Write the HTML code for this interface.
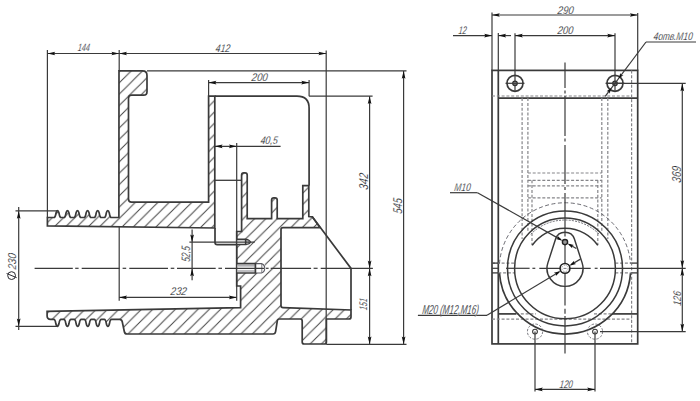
<!DOCTYPE html>
<html><head><meta charset="utf-8"><style>
html,body{margin:0;padding:0;background:#fff;}
svg{display:block;}
</style></head><body>
<svg width="700" height="401" viewBox="0 0 700 401">
<defs>
<pattern id="hatch" patternUnits="userSpaceOnUse" width="11.3" height="11.3" patternTransform="translate(10,0)">
<path d="M-1,1 L1,-1 M0,11.3 L11.3,0 M10.3,12.3 L12.3,10.3" stroke="#444" stroke-width="1"/>
</pattern>
</defs>
<rect width="700" height="401" fill="#fff"/>
<path d="M119,70.9 L142.5,70.9 Q147,70.9 147,75.4 L147,91.7 Q147,95.2 143.5,95.2 L131.5,95.2 Q128.5,95.2 128.5,98.2 L128.5,199 Q128.5,202.2 131.5,202.2 L208.6,202.2 L208.6,96.2 L214.8,96.2 L214.8,228 L47.4,225.9 L47.4,217.5 L53.9,217.5 Q55.3,217.5 56.0,213 Q56.6,210.6 57.5,210.6 Q58.4,210.6 59.0,213 Q59.7,217.5 61.1,217.5 L63.9,217.5 Q65.3,217.5 66.0,213 Q66.6,210.6 67.5,210.6 Q68.4,210.6 69.0,213 Q69.7,217.5 71.1,217.5 L73.9,217.5 Q75.3,217.5 76.0,213 Q76.6,210.6 77.5,210.6 Q78.4,210.6 79.0,213 Q79.7,217.5 81.1,217.5 L84.0,217.5 Q85.39999999999999,217.5 86.1,213 Q86.69999999999999,210.6 87.6,210.6 Q88.5,210.6 89.1,213 Q89.8,217.5 91.19999999999999,217.5 L94.10000000000001,217.5 Q95.5,217.5 96.2,213 Q96.8,210.6 97.7,210.6 Q98.60000000000001,210.6 99.2,213 Q99.9,217.5 101.3,217.5 L104.2,217.5 Q105.6,217.5 106.3,213 Q106.89999999999999,210.6 107.8,210.6 Q108.7,210.6 109.3,213 Q110.0,217.5 111.39999999999999,217.5 L118.9,217.5 Z" stroke="#3a3a3a" stroke-width="1.7" fill="url(#hatch)"/>
<path d="M241.6,231.5 L241.6,175 Q241.6,172.8 243.8,172.8 L245,172.8 Q247.2,172.8 247.2,175 L247.2,218.7 L271.6,218.7 L271.6,200 Q271.6,197.8 273.8,197.8 L275,197.8 Q277.2,197.8 277.2,200 L277.2,218.7 L302.8,218.7 L302.8,185.6 L308.8,185.6 L308.8,216.5 L312.3,216.8 L320.0,227.6 L283,227.6 Q281,227.6 281,229.6 L281,305.6 Q281,307.6 283,307.7 L351,310 L351,317 Q351,319 349,319 L326.4,319 L326.4,342 Q326.4,344 324.4,344 L304.2,344 Q302.2,344 302.2,342 L302.2,321 Q302.2,319 300.2,319 L279.5,319 Q277.5,319 277.3,321 L275.6,331.5 Q275.3,334 273,334 L127,334 Q124.8,334 124.3,331.5 L122.2,321.5 Q121.6,319.3 119.6,319.3 L111.5,319.3 Q110.10000000000001,319.3 109.5,323.5 Q108.9,326.3 107.9,326.3 Q106.9,326.3 106.30000000000001,323.5 Q105.7,319.3 104.30000000000001,319.3 L101.39999999999999,319.3 Q100.0,319.3 99.39999999999999,323.5 Q98.8,326.3 97.8,326.3 Q96.8,326.3 96.2,323.5 Q95.6,319.3 94.2,319.3 L91.39999999999999,319.3 Q90.0,319.3 89.39999999999999,323.5 Q88.8,326.3 87.8,326.3 Q86.8,326.3 86.2,323.5 Q85.6,319.3 84.2,319.3 L81.3,319.3 Q79.9,319.3 79.3,323.5 Q78.7,326.3 77.7,326.3 Q76.7,326.3 76.10000000000001,323.5 Q75.5,319.3 74.10000000000001,319.3 L71.0,319.3 Q69.60000000000001,319.3 69.0,323.5 Q68.4,326.3 67.4,326.3 Q66.4,326.3 65.80000000000001,323.5 Q65.2,319.3 63.800000000000004,319.3 L61.0,319.3 Q59.6,319.3 59.0,323.5 Q58.4,326.3 57.4,326.3 Q56.4,326.3 55.8,323.5 Q55.199999999999996,319.3 53.8,319.3 L50.5,319.3 Q47.1,319.3 47.1,316 L47.1,311.3 L240.6,307.6 L240.6,286 L236.7,286 L236.7,272.6 L236.7,264 L236.7,244.6 L236.7,239.4 L236.7,231.5 Z" stroke="#3a3a3a" stroke-width="1.7" fill="url(#hatch)"/>
<rect x="236.7" y="263.6" width="28" height="9.4" fill="#fff"/>
<path d="M255.4,263.6 L261.5,263.6 Q264.6,264.5 264.8,268.3 Q264.6,272.1 261.5,273 L255.4,273" stroke="#5a5a62" stroke-width="1.1" fill="none"/>
<line x1="261.8" y1="264" x2="261.8" y2="272.6" stroke="#5a5a62" stroke-width="0.8"/>
<path d="M236.7,263.6 L255.4,263.6 L255.4,273 L236.7,273" stroke="#3a3a3a" stroke-width="1.7" fill="none"/>
<line x1="237.5" y1="265.9" x2="255" y2="265.9" stroke="#5a5a62" stroke-width="0.8"/>
<line x1="237.5" y1="271" x2="255" y2="271" stroke="#5a5a62" stroke-width="0.8"/>
<rect x="236.7" y="239.2" width="14" height="5.4" fill="#fff"/>
<path d="M245.7,239.3 Q249.6,239.6 250.6,242.1 Q249.6,244.4 245.7,244.5" stroke="#3a3a3a" stroke-width="1.2" fill="none"/>
<path d="M236.7,239.3 L245.7,239.3 L245.7,244.5 L236.7,244.5" stroke="#3a3a3a" stroke-width="1.7" fill="none"/>
<line x1="248.2" y1="239.8" x2="248.2" y2="244.1" stroke="#5a5a62" stroke-width="0.8"/>
<path d="M215,228 L215,242.5 Q215,244.7 217.2,244.7 L236.7,244.7" stroke="#3a3a3a" stroke-width="1.7" fill="none"/>
<line x1="214.8" y1="180.3" x2="241.6" y2="180.3" stroke="#3a3a3a" stroke-width="1.3"/>
<path d="M214.8,96.2 L297,96.2 Q309.1,96.2 309.1,108.3 L309.1,185.6" stroke="#3a3a3a" stroke-width="1.7" fill="none"/>
<path d="M312.3,216.8 L351,268.4 L351,310" stroke="#3a3a3a" stroke-width="1.7" fill="none"/>
<line x1="47.4" y1="50" x2="47.4" y2="217.5" stroke="#3a3a3a" stroke-width="1.2"/>
<line x1="119.2" y1="50" x2="119.2" y2="70.9" stroke="#3a3a3a" stroke-width="1.2"/>
<line x1="326.2" y1="50.5" x2="326.2" y2="344" stroke="#3a3a3a" stroke-width="1.2"/>
<line x1="47.4" y1="53.5" x2="326.2" y2="53.5" stroke="#3a3a3a" stroke-width="1.2"/>
<path d="M47.40,53.50 L55.20,51.65 L53.90,53.50 L55.20,55.35 Z" fill="#111" stroke="none"/>
<path d="M119.20,53.50 L111.40,55.35 L112.70,53.50 L111.40,51.65 Z" fill="#111" stroke="none"/>
<path d="M119.20,53.50 L127.00,51.65 L125.70,53.50 L127.00,55.35 Z" fill="#111" stroke="none"/>
<path d="M326.20,53.50 L318.40,55.35 L319.70,53.50 L318.40,51.65 Z" fill="#111" stroke="none"/>
<line x1="147" y1="70.9" x2="406.5" y2="70.9" stroke="#3a3a3a" stroke-width="1.2"/>
<line x1="208.6" y1="80" x2="208.6" y2="96.2" stroke="#3a3a3a" stroke-width="1.2"/>
<line x1="309.1" y1="80" x2="309.1" y2="96.2" stroke="#3a3a3a" stroke-width="1.2"/>
<line x1="208.6" y1="82.6" x2="309.1" y2="82.6" stroke="#3a3a3a" stroke-width="1.2"/>
<path d="M208.60,82.60 L216.40,80.75 L215.10,82.60 L216.40,84.45 Z" fill="#111" stroke="none"/>
<path d="M309.10,82.60 L301.30,84.45 L302.60,82.60 L301.30,80.75 Z" fill="#111" stroke="none"/>
<line x1="309.1" y1="96.2" x2="372.6" y2="96.2" stroke="#3a3a3a" stroke-width="1.2"/>
<line x1="369.6" y1="96.2" x2="369.6" y2="344.3" stroke="#3a3a3a" stroke-width="1.2"/>
<path d="M369.60,96.20 L371.45,104.00 L369.60,102.70 L367.75,104.00 Z" fill="#111" stroke="none"/>
<path d="M369.60,268.40 L367.75,260.60 L369.60,261.90 L371.45,260.60 Z" fill="#111" stroke="none"/>
<path d="M369.60,268.40 L371.45,276.20 L369.60,274.90 L367.75,276.20 Z" fill="#111" stroke="none"/>
<path d="M369.60,344.30 L367.75,336.50 L369.60,337.80 L371.45,336.50 Z" fill="#111" stroke="none"/>
<line x1="403.6" y1="70.9" x2="403.6" y2="344.3" stroke="#3a3a3a" stroke-width="1.2"/>
<path d="M403.60,70.90 L405.45,78.70 L403.60,77.40 L401.75,78.70 Z" fill="#111" stroke="none"/>
<path d="M403.60,344.30 L401.75,336.50 L403.60,337.80 L405.45,336.50 Z" fill="#111" stroke="none"/>
<line x1="326.2" y1="344.3" x2="406.5" y2="344.3" stroke="#3a3a3a" stroke-width="1.2"/>
<line x1="119.2" y1="226.5" x2="119.2" y2="300.7" stroke="#3a3a3a" stroke-width="1.2"/>
<line x1="236.7" y1="143" x2="236.7" y2="300.7" stroke="#3a3a3a" stroke-width="1.2"/>
<line x1="119.2" y1="297.4" x2="236.7" y2="297.4" stroke="#3a3a3a" stroke-width="1.2"/>
<path d="M119.20,297.40 L127.00,295.55 L125.70,297.40 L127.00,299.25 Z" fill="#111" stroke="none"/>
<path d="M236.70,297.40 L228.90,299.25 L230.20,297.40 L228.90,295.55 Z" fill="#111" stroke="none"/>
<line x1="214.8" y1="146.3" x2="280.6" y2="146.3" stroke="#3a3a3a" stroke-width="1.2"/>
<path d="M214.80,146.30 L222.60,144.45 L221.30,146.30 L222.60,148.15 Z" fill="#111" stroke="none"/>
<path d="M236.70,146.30 L228.90,148.15 L230.20,146.30 L228.90,144.45 Z" fill="#111" stroke="none"/>
<line x1="192.1" y1="229.5" x2="192.1" y2="280.3" stroke="#3a3a3a" stroke-width="1.2"/>
<path d="M192.10,242.20 L190.25,234.40 L192.10,235.70 L193.95,234.40 Z" fill="#111" stroke="none"/>
<path d="M192.10,268.40 L193.95,276.20 L192.10,274.90 L190.25,276.20 Z" fill="#111" stroke="none"/>
<line x1="189.4" y1="242.1" x2="254.7" y2="242.1" stroke="#3a3a3a" stroke-width="1.2"/>
<line x1="18.7" y1="207" x2="18.7" y2="330" stroke="#3a3a3a" stroke-width="1.2"/>
<path d="M18.70,210.90 L20.55,218.70 L18.70,217.40 L16.85,218.70 Z" fill="#111" stroke="none"/>
<path d="M18.70,326.30 L16.85,318.50 L18.70,319.80 L20.55,318.50 Z" fill="#111" stroke="none"/>
<line x1="15.5" y1="210.9" x2="57" y2="210.9" stroke="#3a3a3a" stroke-width="1.2"/>
<line x1="15.5" y1="326.3" x2="57" y2="326.3" stroke="#3a3a3a" stroke-width="1.2"/>
<line x1="34.6" y1="268.3" x2="72.8" y2="268.3" stroke="#3a3a3a" stroke-width="1.2"/>
<line x1="75.2" y1="268.3" x2="78.6" y2="268.3" stroke="#3a3a3a" stroke-width="1.2"/>
<line x1="81.7" y1="268.3" x2="119.6" y2="268.3" stroke="#3a3a3a" stroke-width="1.2"/>
<line x1="122.6" y1="268.3" x2="126.2" y2="268.3" stroke="#3a3a3a" stroke-width="1.2"/>
<line x1="129.3" y1="268.3" x2="168" y2="268.3" stroke="#3a3a3a" stroke-width="1.2"/>
<line x1="170.7" y1="268.3" x2="174.3" y2="268.3" stroke="#3a3a3a" stroke-width="1.2"/>
<line x1="177" y1="268.3" x2="215.7" y2="268.3" stroke="#3a3a3a" stroke-width="1.2"/>
<line x1="218.4" y1="268.3" x2="222" y2="268.3" stroke="#3a3a3a" stroke-width="1.2"/>
<line x1="225" y1="268.3" x2="264" y2="268.3" stroke="#3a3a3a" stroke-width="1.2"/>
<line x1="266" y1="268.3" x2="268.6" y2="268.3" stroke="#3a3a3a" stroke-width="1.2"/>
<line x1="270.7" y1="268.3" x2="311.1" y2="268.3" stroke="#3a3a3a" stroke-width="1.2"/>
<line x1="313.6" y1="268.3" x2="317.6" y2="268.3" stroke="#3a3a3a" stroke-width="1.2"/>
<line x1="320.7" y1="268.3" x2="372.9" y2="268.3" stroke="#3a3a3a" stroke-width="1.2"/>
<rect x="492" y="70.4" width="145.7" height="273.5" fill="none" stroke="#3a3a3a" stroke-width="1.7"/>
<line x1="498.3" y1="70.4" x2="498.3" y2="343.9" stroke="#3a3a3a" stroke-width="1.7"/>
<line x1="498.3" y1="98.1" x2="637.7" y2="98.1" stroke="#3a3a3a" stroke-width="1.7"/>
<line x1="492" y1="96" x2="631.6" y2="96" stroke="#858589" stroke-width="1.2" stroke-dasharray="3 1.8"/>
<line x1="631.6" y1="70.4" x2="631.6" y2="343.9" stroke="#858589" stroke-width="1.2" stroke-dasharray="3 1.8"/>
<line x1="522.1" y1="98.1" x2="522.1" y2="239" stroke="#858589" stroke-width="1.2" stroke-dasharray="3 1.8"/>
<line x1="527.9" y1="98.1" x2="527.9" y2="232" stroke="#858589" stroke-width="1.2" stroke-dasharray="3 1.8"/>
<line x1="601.8" y1="98.1" x2="601.8" y2="232" stroke="#858589" stroke-width="1.2" stroke-dasharray="3 1.8"/>
<line x1="607.8" y1="98.1" x2="607.8" y2="239" stroke="#858589" stroke-width="1.2" stroke-dasharray="3 1.8"/>
<line x1="527.9" y1="173.0" x2="601.8" y2="173.0" stroke="#858589" stroke-width="1.2" stroke-dasharray="3 1.8"/>
<line x1="527.9" y1="180.3" x2="601.8" y2="180.3" stroke="#858589" stroke-width="1.2" stroke-dasharray="3 1.8"/>
<line x1="527.9" y1="185.8" x2="601.8" y2="185.8" stroke="#858589" stroke-width="1.2" stroke-dasharray="3 1.8"/>
<line x1="527.9" y1="197.8" x2="601.8" y2="197.8" stroke="#858589" stroke-width="1.2" stroke-dasharray="3 1.8"/>
<line x1="532" y1="180.3" x2="532" y2="245.3" stroke="#858589" stroke-width="1.2" stroke-dasharray="3 1.8"/>
<line x1="597.8" y1="180.3" x2="597.8" y2="245.3" stroke="#858589" stroke-width="1.2" stroke-dasharray="3 1.8"/>
<line x1="492" y1="263.1" x2="515" y2="263.1" stroke="#858589" stroke-width="1.2" stroke-dasharray="3 1.8"/>
<line x1="498.3" y1="272.9" x2="515" y2="272.9" stroke="#858589" stroke-width="1.2" stroke-dasharray="3 1.8"/>
<line x1="615.3" y1="263.1" x2="631.6" y2="263.1" stroke="#858589" stroke-width="1.2" stroke-dasharray="3 1.8"/>
<line x1="615.3" y1="272.9" x2="631.6" y2="272.9" stroke="#858589" stroke-width="1.2" stroke-dasharray="3 1.8"/>
<line x1="631.6" y1="272.9" x2="637.7" y2="272.9" stroke="#3a3a3a" stroke-width="1.3"/>
<line x1="631.6" y1="263.1" x2="637.7" y2="263.1" stroke="#3a3a3a" stroke-width="1.3"/>
<line x1="492" y1="263.1" x2="498.3" y2="263.1" stroke="#3a3a3a" stroke-width="1.3"/>
<line x1="492" y1="272.9" x2="498.3" y2="272.9" stroke="#3a3a3a" stroke-width="1.3"/>
<line x1="498.3" y1="313.9" x2="516" y2="313.9" stroke="#3a3a3a" stroke-width="1.7"/>
<line x1="516" y1="313.9" x2="536" y2="313.9" stroke="#858589" stroke-width="1.2" stroke-dasharray="3 1.8"/>
<line x1="612" y1="313.9" x2="637.7" y2="313.9" stroke="#3a3a3a" stroke-width="1.7"/>
<line x1="594" y1="313.9" x2="612" y2="313.9" stroke="#858589" stroke-width="1.2" stroke-dasharray="3 1.8"/>
<line x1="492" y1="319.2" x2="631.6" y2="319.2" stroke="#858589" stroke-width="1.2" stroke-dasharray="3 1.8"/>
<circle cx="565" cy="268.4" r="50.4" fill="none" stroke="#3a3a3a" stroke-width="1.5"/>
<path d="M530.78,234.18 A48.4,48.4 0 0 1 599.22,234.18" fill="none" stroke="#5a5a62" stroke-width="0.9" stroke-dasharray="2 1.2"/>
<circle cx="565" cy="268.4" r="57.5" fill="none" stroke="#3a3a3a" stroke-width="1.5"/>
<path d="M499.48,263.6 A65.7,65.7 0 0 1 630.52,263.6" fill="none" stroke="#5a5a62" stroke-width="0.9" stroke-dasharray="4 2.5"/>
<path d="M499.48,273.2 A65.7,65.7 0 0 0 630.52,273.2" fill="none" stroke="#3a3a3a" stroke-width="1.7"/>
<path d="M532.2,245.3 A40,40 0 0 1 597.8,245.3" fill="none" stroke="#3a3a3a" stroke-width="1.5"/>
<path d="M555.58,239.05 A9.9,9.9 0 0 1 574.42,239.05 L582.13,262.86 A18.0,18.0 0 1 1 547.87,262.86 Z" stroke="#3a3a3a" stroke-width="1.45" fill="none"/>
<circle cx="515" cy="83.3" r="8" fill="none" stroke="#3a3a3a" stroke-width="1.7"/>
<circle cx="515" cy="83.3" r="2.2" fill="none" stroke="#2a2a2a" stroke-width="1.4"/>
<line x1="505.5" y1="83.3" x2="524.5" y2="83.3" stroke="#3a3a3a" stroke-width="1.2"/>
<line x1="515" y1="33.3" x2="515" y2="92" stroke="#3a3a3a" stroke-width="1.2"/>
<circle cx="615" cy="83.3" r="8" fill="none" stroke="#3a3a3a" stroke-width="1.7"/>
<circle cx="615" cy="83.3" r="2.2" fill="none" stroke="#2a2a2a" stroke-width="1.4"/>
<line x1="605.5" y1="83.3" x2="624.5" y2="83.3" stroke="#3a3a3a" stroke-width="1.2"/>
<line x1="615" y1="33.3" x2="615" y2="92" stroke="#3a3a3a" stroke-width="1.2"/>
<circle cx="535" cy="331.6" r="7.6" fill="none" stroke="#5a5a62" stroke-width="0.8" stroke-dasharray="2.5 1.5"/>
<circle cx="535" cy="331.6" r="2.4" fill="none" stroke="#3a3a3a" stroke-width="1.1"/>
<line x1="535" y1="331.6" x2="535" y2="391.5" stroke="#3a3a3a" stroke-width="1.2"/>
<circle cx="595" cy="331.6" r="7.6" fill="none" stroke="#5a5a62" stroke-width="0.8" stroke-dasharray="2.5 1.5"/>
<circle cx="595" cy="331.6" r="2.4" fill="none" stroke="#3a3a3a" stroke-width="1.1"/>
<line x1="595" y1="331.6" x2="595" y2="391.5" stroke="#3a3a3a" stroke-width="1.2"/>
<line x1="565" y1="62.4" x2="565" y2="88" stroke="#3a3a3a" stroke-width="1.2"/>
<line x1="565" y1="90.5" x2="565" y2="93.5" stroke="#3a3a3a" stroke-width="1.2"/>
<line x1="565" y1="96" x2="565" y2="136" stroke="#3a3a3a" stroke-width="1.2"/>
<line x1="565" y1="138.5" x2="565" y2="141.5" stroke="#3a3a3a" stroke-width="1.2"/>
<line x1="565" y1="145" x2="565" y2="184" stroke="#3a3a3a" stroke-width="1.2"/>
<line x1="565" y1="187" x2="565" y2="190" stroke="#3a3a3a" stroke-width="1.2"/>
<line x1="565" y1="193" x2="565" y2="236.5" stroke="#3a3a3a" stroke-width="1.2"/>
<line x1="565" y1="244" x2="565" y2="305.6" stroke="#3a3a3a" stroke-width="1.2"/>
<line x1="565" y1="308.8" x2="565" y2="313.7" stroke="#3a3a3a" stroke-width="1.2"/>
<line x1="565" y1="316" x2="565" y2="353.5" stroke="#3a3a3a" stroke-width="1.2"/>
<line x1="491.9" y1="268.3" x2="498.3" y2="268.3" stroke="#3a3a3a" stroke-width="1.2"/>
<line x1="506" y1="268.3" x2="529.6" y2="268.3" stroke="#3a3a3a" stroke-width="1.2"/>
<line x1="532.4" y1="268.3" x2="535.3" y2="268.3" stroke="#3a3a3a" stroke-width="1.2"/>
<line x1="539.3" y1="268.3" x2="590.7" y2="268.3" stroke="#3a3a3a" stroke-width="1.2"/>
<line x1="594.7" y1="268.3" x2="597.6" y2="268.3" stroke="#3a3a3a" stroke-width="1.2"/>
<line x1="600" y1="268.3" x2="685.7" y2="268.3" stroke="#3a3a3a" stroke-width="1.2"/>
<line x1="492" y1="12.4" x2="492" y2="70.4" stroke="#3a3a3a" stroke-width="1.2"/>
<line x1="637.7" y1="13" x2="637.7" y2="70.4" stroke="#3a3a3a" stroke-width="1.2"/>
<line x1="498.3" y1="33" x2="498.3" y2="70.4" stroke="#3a3a3a" stroke-width="1.2"/>
<line x1="492" y1="15" x2="637.7" y2="15" stroke="#3a3a3a" stroke-width="1.2"/>
<path d="M492.00,15.00 L499.80,13.15 L498.50,15.00 L499.80,16.85 Z" fill="#111" stroke="none"/>
<path d="M637.70,15.00 L629.90,16.85 L631.20,15.00 L629.90,13.15 Z" fill="#111" stroke="none"/>
<line x1="453" y1="35.6" x2="492" y2="35.6" stroke="#3a3a3a" stroke-width="1.2"/>
<path d="M492.00,35.60 L484.20,37.45 L485.50,35.60 L484.20,33.75 Z" fill="#111" stroke="none"/>
<line x1="498.3" y1="35.6" x2="511" y2="35.6" stroke="#3a3a3a" stroke-width="1.2"/>
<path d="M498.30,35.60 L506.10,33.75 L504.80,35.60 L506.10,37.45 Z" fill="#111" stroke="none"/>
<line x1="515" y1="35.6" x2="615" y2="35.6" stroke="#3a3a3a" stroke-width="1.2"/>
<path d="M515.00,35.60 L522.80,33.75 L521.50,35.60 L522.80,37.45 Z" fill="#111" stroke="none"/>
<path d="M615.00,35.60 L607.20,37.45 L608.50,35.60 L607.20,33.75 Z" fill="#111" stroke="none"/>
<line x1="646" y1="42" x2="696" y2="42" stroke="#3a3a3a" stroke-width="1.2"/>
<line x1="646" y1="42" x2="605.2" y2="96.4" stroke="#3a3a3a" stroke-width="1.2"/>
<path d="M618.60,78.50 L620.38,72.96 L621.12,75.14 L623.42,75.24 Z" fill="#111" stroke="none"/>
<path d="M611.40,88.10 L609.62,93.64 L608.88,91.46 L606.58,91.36 Z" fill="#111" stroke="none"/>
<line x1="606.5" y1="83.4" x2="685.7" y2="83.4" stroke="#3a3a3a" stroke-width="1.2"/>
<line x1="682.3" y1="83.4" x2="682.3" y2="331.6" stroke="#3a3a3a" stroke-width="1.2"/>
<path d="M682.30,83.40 L684.15,91.20 L682.30,89.90 L680.45,91.20 Z" fill="#111" stroke="none"/>
<path d="M682.30,268.10 L680.45,260.30 L682.30,261.60 L684.15,260.30 Z" fill="#111" stroke="none"/>
<path d="M682.30,268.10 L684.15,275.90 L682.30,274.60 L680.45,275.90 Z" fill="#111" stroke="none"/>
<path d="M682.30,331.60 L680.45,323.80 L682.30,325.10 L684.15,323.80 Z" fill="#111" stroke="none"/>
<line x1="600" y1="331.6" x2="685.7" y2="331.6" stroke="#3a3a3a" stroke-width="1.2"/>
<line x1="535" y1="389.4" x2="595" y2="389.4" stroke="#3a3a3a" stroke-width="1.2"/>
<path d="M535.00,389.40 L542.80,387.55 L541.50,389.40 L542.80,391.25 Z" fill="#111" stroke="none"/>
<path d="M595.00,389.40 L587.20,391.25 L588.50,389.40 L587.20,387.55 Z" fill="#111" stroke="none"/>
<line x1="450" y1="192.7" x2="477.5" y2="192.7" stroke="#3a3a3a" stroke-width="1.2"/>
<line x1="477.5" y1="192.7" x2="560.6459815323685" y2="239.6418455737029" stroke="#3a3a3a" stroke-width="1.2"/>
<line x1="569.3540184676315" y1="244.55815442629708" x2="576.3204480158419" y2="248.49120150837243" stroke="#3a3a3a" stroke-width="1.2"/>
<path d="M562.56,240.72 L556.02,239.10 L558.03,238.17 L557.79,235.96 Z" fill="#111" stroke="none"/>
<path d="M567.44,243.48 L573.98,245.10 L571.97,246.03 L572.21,248.24 Z" fill="#111" stroke="none"/>
<line x1="417.9" y1="315.3" x2="487" y2="315.3" stroke="#3a3a3a" stroke-width="1.2"/>
<line x1="487" y1="315.3" x2="559.0009453145267" y2="272.00712390703455" stroke="#3a3a3a" stroke-width="1.2"/>
<line x1="570.9990546854733" y1="264.7928760929654" x2="580.4261406197885" y2="259.1245385247681" stroke="#3a3a3a" stroke-width="1.2"/>
<path d="M560.71,270.98 L555.87,276.11 L556.00,273.81 L553.91,272.85 Z" fill="#111" stroke="none"/>
<path d="M569.29,265.82 L574.13,260.69 L574.00,262.99 L576.09,263.95 Z" fill="#111" stroke="none"/>
<circle cx="565" cy="242.1" r="2.6" fill="#999" stroke="#222" stroke-width="1.4"/>
<circle cx="565" cy="268.4" r="4.9" fill="#fff" stroke="#222" stroke-width="1.6"/>
<circle cx="565" cy="268.4" r="3.2" fill="none" stroke="#777" stroke-width="0.7" stroke-dasharray="1.5 1.2"/>
<line x1="563.5" y1="268.4" x2="566.5" y2="268.4" stroke="#5a5a62" stroke-width="0.8"/>
<g font-family="Liberation Sans, sans-serif" font-style="italic" fill="#101318" stroke="#fff" stroke-width="0.2">
<text transform="translate(77.5,51.2) skewX(-7)" x="0" y="0" font-size="10.42" textLength="11.899999999999991" lengthAdjust="spacingAndGlyphs">144</text>
<text transform="translate(215.3,52) skewX(-7)" x="0" y="0" font-size="11.11" textLength="14.5" lengthAdjust="spacingAndGlyphs">412</text>
<text transform="translate(251.3,81) skewX(-7)" x="0" y="0" font-size="11.11" textLength="16" lengthAdjust="spacingAndGlyphs">200</text>
<text transform="translate(260.2,144.2) skewX(-7)" x="0" y="0" font-size="11.11" textLength="17.100000000000023" lengthAdjust="spacingAndGlyphs">40,5</text>
<text transform="translate(170.3,295.4) skewX(-7)" x="0" y="0" font-size="11.11" textLength="16" lengthAdjust="spacingAndGlyphs">232</text>
<text transform="translate(458.3,33.6) skewX(-7)" x="0" y="0" font-size="11.11" textLength="8" lengthAdjust="spacingAndGlyphs">12</text>
<text transform="translate(557.3,13.6) skewX(-7)" x="0" y="0" font-size="11.11" textLength="16" lengthAdjust="spacingAndGlyphs">290</text>
<text transform="translate(557.3,33.6) skewX(-7)" x="0" y="0" font-size="11.11" textLength="15.600000000000023" lengthAdjust="spacingAndGlyphs">200</text>
<text transform="translate(653.3,40) skewX(-7)" x="0" y="0" font-size="11.11" textLength="39" lengthAdjust="spacingAndGlyphs">4отв.M10</text>
<text transform="translate(454.1,190.6) skewX(-7)" x="0" y="0" font-size="11.11" textLength="16.19999999999999" lengthAdjust="spacingAndGlyphs">M10</text>
<text transform="translate(421.90000000000003,314) skewX(-7)" x="0" y="0" font-size="13.06" textLength="56.5" lengthAdjust="spacingAndGlyphs">M20 (M12,M16)</text>
<text transform="translate(559.3,388) skewX(-7)" x="0" y="0" font-size="11.11" textLength="13" lengthAdjust="spacingAndGlyphs">120</text>
<text transform="translate(368.4,189.9) rotate(-90) skewX(-7)" x="0" y="0" font-size="12.78" textLength="16.400000000000006" lengthAdjust="spacingAndGlyphs">342</text>
<text transform="translate(402.4,214.1) rotate(-90) skewX(-7)" x="0" y="0" font-size="12.78" textLength="15.599999999999994" lengthAdjust="spacingAndGlyphs">545</text>
<text transform="translate(190.2,262.1) rotate(-90) skewX(-7)" x="0" y="0" font-size="12.22" textLength="15.600000000000023" lengthAdjust="spacingAndGlyphs">52,5</text>
<text transform="translate(367,310.5) rotate(-90) skewX(-7)" x="0" y="0" font-size="11.11" textLength="12" lengthAdjust="spacingAndGlyphs">151</text>
<text transform="translate(681,183.0) rotate(-90) skewX(-7)" x="0" y="0" font-size="12.92" textLength="16.5" lengthAdjust="spacingAndGlyphs">369</text>
<text transform="translate(681,306.1) rotate(-90) skewX(-7)" x="0" y="0" font-size="11.11" textLength="14.600000000000023" lengthAdjust="spacingAndGlyphs">126</text>
<text transform="translate(16.4,269.8) rotate(-90) skewX(-7)" x="0" y="0" font-size="11.39" textLength="16.200000000000017" lengthAdjust="spacingAndGlyphs">230</text>
</g>
<circle cx="11.6" cy="275.6" r="3.9" fill="none" stroke="#2a2a30" stroke-width="1.0"/>
<line x1="6.6" y1="273.5" x2="16.7" y2="277.7" stroke="#2a2a30" stroke-width="1.0"/>
<g>
</g>
</svg>
</body></html>
